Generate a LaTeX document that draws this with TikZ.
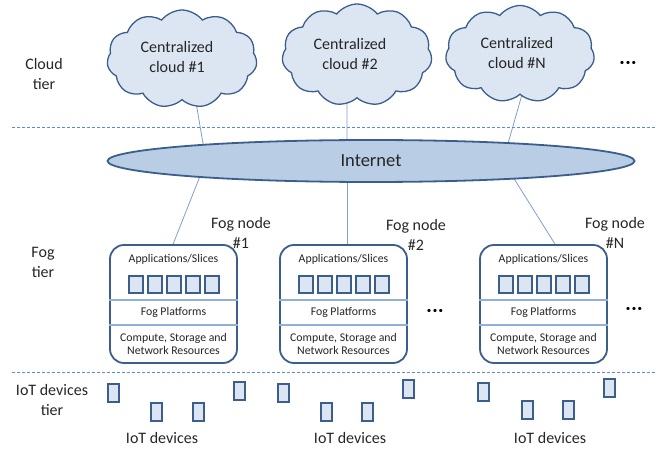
\documentclass[tikz,border=0pt]{standalone}
\usepackage{fontspec}
\setmainfont{Carlito}
\usetikzlibrary{shapes.symbols,shapes.geometric,calc}
\pgfdeclarelayer{background}
\pgfsetlayers{background,main}
\definecolor{cloudfill}{HTML}{DCE6F2}
\definecolor{edgeblue}{HTML}{3B5E8C}
\definecolor{netfill}{HTML}{B9CDE5}
\definecolor{connblue}{HTML}{7F9FCF}
\definecolor{dashblue}{HTML}{5B8BC9}
\definecolor{divblue}{HTML}{8EB0DA}
\begin{document}
\begin{tikzpicture}[x=1pt,y=-1pt,
  bigtext/.style={font=\fontsize{16}{20}\selectfont, align=center, inner sep=0pt, text=black!85},
  smalltext/.style={font=\fontsize{11.8}{13}\selectfont, align=center, inner sep=0pt, text=black!85},
  nettext/.style={font=\fontsize{18.5}{20}\selectfont, inner sep=0pt, text=black!85},
  dotstext/.style={font=\fontsize{9}{9}\selectfont, inner sep=0pt},
  cloudshape/.style={cloud, cloud puffs=11, cloud puff arc=105, aspect=1.5, draw=edgeblue, line width=1.3pt, fill=cloudfill, inner sep=0pt},
  netshape/.style={ellipse, draw=edgeblue, line width=1.8pt, fill=netfill, inner sep=0pt, minimum width=527pt, minimum height=42pt},
  fogbox/.style={draw=edgeblue, line width=1.8pt, rounded corners=14pt, fill=white, minimum width=127pt, minimum height=118pt, inner sep=0pt},
  appsq/.style={draw=edgeblue, line width=2pt, fill=cloudfill, minimum width=14pt, minimum height=17pt, inner sep=0pt},
  device/.style={draw=edgeblue, line width=2pt, fill=cloudfill, minimum width=11pt, minimum height=17.5pt, inner sep=0pt},
  conn/.style={draw=connblue, line width=0.8pt},
  divider/.style={draw=divblue, line width=1.1pt},
  tierline/.style={draw=dashblue, line width=0.8pt, dash pattern=on 3pt off 2pt}
]
\useasboundingbox (0,0) rectangle (656,449);

% tier separators
\coordinate (sepAl) at (12,127);
\coordinate (sepAr) at (656,127);
\coordinate (sepBl) at (12,372);
\coordinate (sepBr) at (656,372);
\draw[tierline] (sepAl) -- (sepAr);
\draw[tierline] (sepBl) -- (sepBr);

% tier labels
\node[bigtext] (tcloud) at (44,74) {Cloud\\tier};
\node[bigtext] (tfog) at (43,262) {Fog\\tier};
\node[bigtext] (tiot) at (52,400) {IoT devices\\tier};

% clouds
\node[cloudshape, minimum width=150pt, minimum height=98pt] (c1) at (182,59) {};
\node[bigtext] (c1t) at (177,57) {Centralized\\cloud \#1};
\node[cloudshape, minimum width=150pt, minimum height=102pt] (c2) at (357,55) {};
\node[bigtext] (c2t) at (350,54) {Centralized\\cloud \#2};
\node[cloudshape, minimum width=149pt, minimum height=97pt] (cN) at (520,54) {};
\node[bigtext] (cNt) at (517,53) {Centralized\\cloud \#N};
\node[dotstext] (dots1) at (628,63) {•\,•\,•};

% internet
\node[netshape] (inet) at (371,161) {};
\node[nettext] (inett) at (371,161) {Internet};

% fog nodes
\foreach \fid/\cx in {1/173.5, 2/343.5, N/543.5} {
  \node[fogbox] (fog\fid) at (\cx,304) {};
  \node[smalltext] (app\fid) at ($(fog\fid.north)+(0,15)$) {Applications/Slices};
  \foreach \k/\j in {-2/a,-1/b,0/c,1/d,2/e}
    \node[appsq] (sq\fid\j) at ($(fog\fid.north)+(19*\k,40)$) {};
  \draw[divider] ($(fog\fid.west)+(0,-4)$) -- ($(fog\fid.east)+(0,-4)$);
  \node[smalltext] (plat\fid) at ($(fog\fid.north)+(0,68)$) {Fog Platforms};
  \draw[divider] ($(fog\fid.west)+(0,21)$) -- ($(fog\fid.east)+(0,21)$);
  \node[smalltext] (res\fid) at ($(fog\fid.north)+(0,99.5)$) {Compute, Storage and\\Network Resources};
}
\node[bigtext] (lab1) at (241,233) {Fog node\\\#1};
\node[bigtext] (lab2) at (416,235) {Fog node\\\#2};
\node[bigtext] (labN) at (615,233) {Fog node\\\#N};
\node[dotstext] (dots2) at (435,311) {•\,•\,•};
\node[dotstext] (dots3) at (634,309) {•\,•\,•};

% IoT devices
\foreach \i/\x/\y in {1/113/393, 2/156/412, 3/198/412, 4/239/391, 5/283/393, 6/326/412,
                      7/367/412, 8/408/389, 9/483/392, 10/527/410, 11/568/410, 12/609/388}
  \node[device] (dev\i) at (\x,\y) {};
\node[bigtext] (iot1) at (162,438) {IoT devices};
\node[bigtext] (iot2) at (350,438) {IoT devices};
\node[bigtext] (iot3) at (550,438) {IoT devices};

% connectors (behind shapes)
\begin{pgfonlayer}{background}
  \draw[conn] ([xshift=13pt,yshift=4pt]c1.south) -- ([xshift=-165pt]inet.center);
  \draw[conn] ([xshift=-10pt,yshift=4pt]c2.south) -- ([xshift=-24pt]inet.center);
  \draw[conn] ([xshift=3pt,yshift=4pt]cN.south) -- ([xshift=132pt]inet.center);
  \draw[conn] ([xshift=-165pt]inet.center) -- ([xshift=-2pt,yshift=-4pt]fog1.north);
  \draw[conn] ([xshift=-24pt]inet.center) -- ([xshift=3.5pt,yshift=-4pt]fog2.north);
  \draw[conn] ([xshift=132pt]inet.center) -- ([xshift=14pt,yshift=-4pt]fogN.north);
\end{pgfonlayer}
\end{tikzpicture}
\end{document}
